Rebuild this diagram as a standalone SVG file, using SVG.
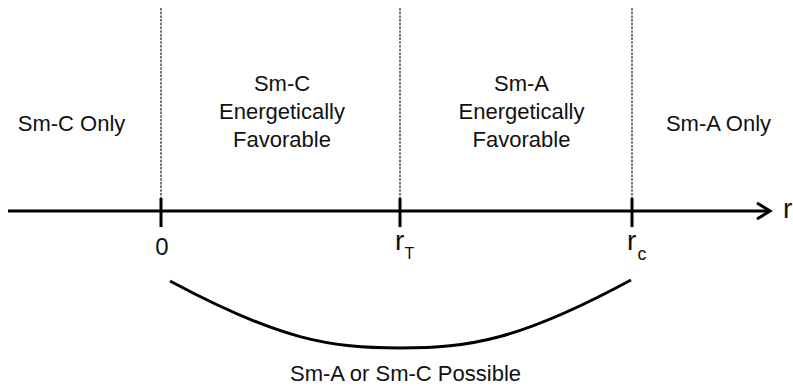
<svg xmlns="http://www.w3.org/2000/svg" width="793" height="386" viewBox="0 0 793 386">
<style>
.lbl{font-family:"Liberation Sans",Arial,Helvetica,sans-serif;font-size:22px;fill:#111;text-anchor:middle}
.ax{font-family:"Liberation Sans",Arial,Helvetica,sans-serif;fill:#111}
.dash{stroke:#666;stroke-width:1.8;stroke-dasharray:2.5 1.2;fill:none}
.line{stroke:#000;stroke-width:3;fill:none}
</style>
<rect width="793" height="386" fill="#fff"/>
<g id="guides">
<line class="dash" x1="161" y1="8" x2="161" y2="200"/>
<line class="dash" x1="400" y1="8" x2="400" y2="200"/>
<line class="dash" x1="632" y1="8" x2="632" y2="200"/>
</g>
<g id="region-smc-only"><text class="lbl" x="71.5" y="131">Sm-C Only</text></g>
<g id="region-smc-fav"><text class="lbl" x="282" y="91">Sm-C</text><text class="lbl" x="282" y="119">Energetically</text><text class="lbl" x="282" y="147">Favorable</text></g>
<g id="region-sma-fav"><text class="lbl" x="521.5" y="91">Sm-A</text><text class="lbl" x="521.5" y="119">Energetically</text><text class="lbl" x="521.5" y="147">Favorable</text></g>
<g id="region-sma-only"><text class="lbl" x="718.5" y="131">Sm-A Only</text></g>
<g id="axis">
<line class="line" x1="8" y1="211" x2="770" y2="211"/>
<polyline class="line" points="757,203 770,211 757,219" stroke-linejoin="miter"/>
<line class="line" x1="161" y1="198" x2="161" y2="227"/>
<line class="line" x1="400" y1="198" x2="400" y2="227"/>
<line class="line" x1="632" y1="198" x2="632" y2="227"/>
<text class="ax" x="783" y="218" font-size="28">r</text>
</g>
<g id="tick-0"><text class="ax" x="162" y="255" font-size="24" text-anchor="middle">0</text></g>
<g id="tick-rT"><text class="ax" x="395" y="250" font-size="28">r</text><text class="ax" x="404.5" y="258.5" font-size="16">T</text></g>
<g id="tick-rc"><text class="ax" x="627" y="250" font-size="28">r</text><text class="ax" x="637.5" y="260" font-size="18">c</text></g>
<g id="connectors">
<path class="line" d="M170,281 C280,340 330,348 400,348 C470,348 520,340 631,280"/>
</g>
<g id="possible"><text class="lbl" x="405.5" y="380.5">Sm-A or Sm-C Possible</text></g>
</svg>
